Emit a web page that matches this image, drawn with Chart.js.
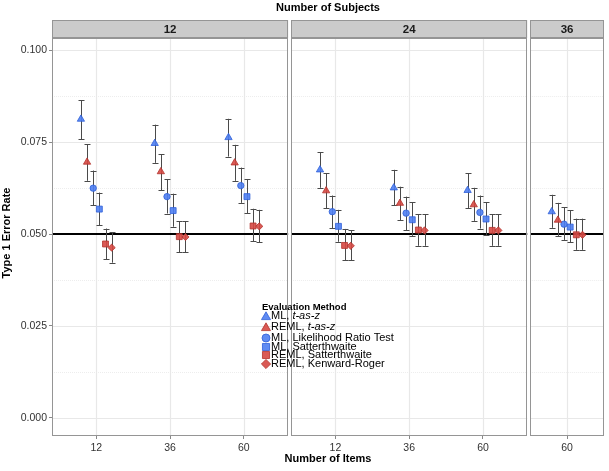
<!DOCTYPE html>
<html><head><meta charset="utf-8">
<script src="https://cdn.jsdelivr.net/npm/chart.js@4/dist/chart.umd.min.js"></script>
<style>html,body{margin:0;padding:0;background:#fff}#wrap{width:609px;height:471px;position:relative}</style>
</head><body><div id="wrap"><canvas id="c" width="609" height="471"></canvas></div>
<script>
// ---------- DATA ----------
const subjects = ['12', '24', '36'];
const itemsBySubject = [['12', '36', '60'], ['12', '36', '60'], ['60']];
const methodNames = ['ML, t-as-z', 'REML, t-as-z', 'ML, Likelihood Ratio Test', 'ML, Satterthwaite', 'REML, Satterthwaite', 'REML, Kenward-Roger'];
const yTickValues = [0, 0.025, 0.05, 0.075, 0.1];
const yMinorValues = [0.0125, 0.0375, 0.0625, 0.0875];
const nominalAlpha = 0.05;
// groups in order: S12-I12, S12-I36, S12-I60, S24-I12, S24-I36, S24-I60, S36-I60
const mlTasZ      = [0.0813, 0.0747, 0.0763, 0.0675, 0.0626, 0.0619, 0.0561];
const mlTasZLo    = [0.0758, 0.0694, 0.0711, 0.0626, 0.0578, 0.0571, 0.0517];
const mlTasZHi    = [0.0865, 0.0798, 0.0814, 0.0723, 0.0675, 0.0666, 0.0607];
const remlTasZ    = [0.0696, 0.0670, 0.0694, 0.0618, 0.0584, 0.0580, 0.0538];
const remlTasZLo  = [0.0645, 0.0620, 0.0645, 0.0570, 0.0538, 0.0536, 0.0495];
const remlTasZHi  = [0.0745, 0.0717, 0.0743, 0.0666, 0.0629, 0.0626, 0.0585];
const mlLrt       = [0.0625, 0.0602, 0.0632, 0.0561, 0.0557, 0.0559, 0.0527];
const mlLrtLo     = [0.0578, 0.0556, 0.0585, 0.0516, 0.0511, 0.0515, 0.0484];
const mlLrtHi     = [0.0673, 0.0649, 0.0681, 0.0605, 0.0602, 0.0605, 0.0573];
const mlSatt      = [0.0568, 0.0564, 0.0602, 0.0521, 0.0539, 0.0541, 0.0519];
const mlSattLo    = [0.0524, 0.0520, 0.0557, 0.0479, 0.0495, 0.0497, 0.0478];
const mlSattHi    = [0.0613, 0.0610, 0.0650, 0.0566, 0.0586, 0.0587, 0.0565];
const remlSatt    = [0.0473, 0.0493, 0.0522, 0.0469, 0.0511, 0.0510, 0.0498];
const remlSattLo  = [0.0432, 0.0450, 0.0481, 0.0429, 0.0468, 0.0468, 0.0457];
const remlSattHi  = [0.0515, 0.0535, 0.0569, 0.0514, 0.0554, 0.0554, 0.0542];
const remlKr      = [0.0463, 0.0492, 0.0521, 0.0468, 0.0510, 0.0510, 0.0498];
const remlKrLo    = [0.0422, 0.0450, 0.0478, 0.0428, 0.0468, 0.0468, 0.0457];
const remlKrHi    = [0.0505, 0.0535, 0.0566, 0.0510, 0.0554, 0.0554, 0.0542];

// ---------- STYLE / LAYOUT ----------
const FONT = "'Liberation Sans', Arial, Helvetica, sans-serif";
const BLUE = 'rgba(78,126,242,0.9)', BLUE_E = '#2f5fd8';
const RED = 'rgba(214,72,66,0.9)', RED_E = '#b3322c';
const est = [mlTasZ, remlTasZ, mlLrt, mlSatt, remlSatt, remlKr];
const lo = [mlTasZLo, remlTasZLo, mlLrtLo, mlSattLo, remlSattLo, remlKrLo];
const hi = [mlTasZHi, remlTasZHi, mlLrtHi, mlSattHi, remlSattHi, remlKrHi];
const shapes = ['triangle', 'triangle', 'circle', 'rect', 'rect', 'rectRot'];
const radii = [4.2, 4.2, 3.2, 4.2, 4.2, 3.6];
const legRadii = [5.2, 5.2, 4.0, 5.0, 5.0, 4.6];
const fills = [BLUE, RED, BLUE, BLUE, RED, RED];
const edges = [BLUE_E, RED_E, BLUE_E, BLUE_E, RED_E, RED_E];

const PANEL_GAP = 0.04, DODGE = 0.5;
let cursor = 0;
const panels = [];
itemsBySubject.forEach((items, p) => {
  const expand = items.length > 1 ? 0.6 : 0.5;
  const start = cursor;
  const centers = items.map((_, k) => start + expand + k);
  const end = start + 2 * expand + items.length - 1;
  panels.push({ start, end, centers, label: subjects[p] });
  cursor = end + PANEL_GAP;
});
const totalUnits = cursor - PANEL_GAP;
const groupCenters = panels.flatMap(p => p.centers);
const xTickLabels = itemsBySubject.flat();
const nM = methodNames.length;
const dodgeOff = j => ((j + 0.5) / nM) * DODGE - DODGE / 2;

const datasets = methodNames.map((name, j) => ({
  label: name,
  data: groupCenters.map((c, g) => ({ x: c + dodgeOff(j), y: est[j][g] })),
  pointStyle: shapes[j],
  pointRadius: radii[j],
  pointBackgroundColor: fills[j],
  pointBorderColor: edges[j],
  pointBorderWidth: 0.8,
  showLine: false
}));

const facetPlugin = {
  id: 'facet',
  beforeDatasetsDraw(chart) {
    const { ctx, chartArea: a, scales: { x, y } } = chart;
    ctx.save();
    panels.forEach(p => {
      const L = x.getPixelForValue(p.start), R = x.getPixelForValue(p.end);
      ctx.fillStyle = '#fff';
      ctx.fillRect(L, a.top, R - L, a.bottom - a.top);
      ctx.strokeStyle = '#ededed'; ctx.lineWidth = 1; ctx.setLineDash([1, 1]);
      yMinorValues.forEach(v => {
        const yy = Math.round(y.getPixelForValue(v)) + 0.5;
        ctx.beginPath(); ctx.moveTo(L, yy); ctx.lineTo(R, yy); ctx.stroke();
      });
      ctx.setLineDash([]);
      ctx.strokeStyle = '#e8e8e8'; ctx.lineWidth = 1.2;
      yTickValues.forEach(v => {
        const yy = Math.round(y.getPixelForValue(v)) + 0.5;
        ctx.beginPath(); ctx.moveTo(L, yy); ctx.lineTo(R, yy); ctx.stroke();
      });
      p.centers.forEach(c => {
        const xx = Math.round(x.getPixelForValue(c)) + 0.5;
        ctx.beginPath(); ctx.moveTo(xx, a.top); ctx.lineTo(xx, a.bottom); ctx.stroke();
      });
      ctx.strokeStyle = '#000'; ctx.lineWidth = 2;
      const yr = y.getPixelForValue(nominalAlpha);
      ctx.beginPath(); ctx.moveTo(L, yr); ctx.lineTo(R, yr); ctx.stroke();
      ctx.strokeStyle = '#959595'; ctx.lineWidth = 1;
      ctx.strokeRect(Math.round(L) + 0.5, Math.round(a.top) + 0.5, Math.round(R - L) - 1, Math.round(a.bottom - a.top) - 1);
    });
    ctx.strokeStyle = '#4a4a4a'; ctx.lineWidth = 1;
    methodNames.forEach((_, j) => {
      groupCenters.forEach((c, g) => {
        const xx = Math.round(x.getPixelForValue(c + dodgeOff(j))) + 0.5;
        const y1 = y.getPixelForValue(lo[j][g]), y2 = y.getPixelForValue(hi[j][g]);
        ctx.beginPath();
        ctx.moveTo(xx, y1); ctx.lineTo(xx, y2);
        ctx.moveTo(xx - 3, Math.round(y1) + 0.5); ctx.lineTo(xx + 3, Math.round(y1) + 0.5);
        ctx.moveTo(xx - 3, Math.round(y2) + 0.5); ctx.lineTo(xx + 3, Math.round(y2) + 0.5);
        ctx.stroke();
      });
    });
    ctx.restore();
  },
  afterDraw(chart) {
    const { ctx, chartArea: a, scales: { x } } = chart;
    ctx.save();
    panels.forEach(p => {
      const L = x.getPixelForValue(p.start), R = x.getPixelForValue(p.end);
      ctx.fillStyle = '#cbcbcb';
      ctx.fillRect(L, a.top - 18, R - L, 18);
      ctx.strokeStyle = '#959595'; ctx.lineWidth = 1;
      ctx.strokeRect(Math.round(L) + 0.5, Math.round(a.top - 18) + 0.5, Math.round(R - L) - 1, 17);
      ctx.fillStyle = '#1a1a1a';
      ctx.font = 'bold 11.5px ' + FONT;
      ctx.textAlign = 'center'; ctx.textBaseline = 'middle';
      ctx.fillText(p.label, (L + R) / 2, a.top - 8.5);
    });
    ctx.fillStyle = '#000';
    ctx.font = 'bold 11px ' + FONT;
    ctx.textAlign = 'center'; ctx.textBaseline = 'middle';
    const cx = (a.left + a.right) / 2;
    ctx.fillText('Number of Subjects', cx, 8);
    ctx.fillText('Number of Items', cx, 459);
    ctx.save();
    ctx.translate(7, 233); ctx.rotate(-Math.PI / 2);
    ctx.fillText('Type 1 Error Rate', 0, 0);
    ctx.restore();
    // legend
    ctx.textAlign = 'left';
    ctx.font = 'bold 9.5px ' + FONT;
    ctx.fillText('Evaluation Method', 262, 307);
    const rows = [316, 327, 338, 347, 355, 364];
    methodNames.forEach((name, j) => {
      ctx.fillStyle = fills[j]; ctx.strokeStyle = edges[j]; ctx.lineWidth = 0.8;
      Chart.helpers.drawPoint(ctx, { pointStyle: shapes[j], radius: legRadii[j], rotation: 0, borderWidth: 0.8 }, 266, rows[j] + (shapes[j] === 'triangle' ? 1 : 0));
      ctx.fillStyle = '#000';
      const parts = name.split('t-as-z');
      ctx.font = '11px ' + FONT;
      let tx = 271;
      ctx.fillText(parts[0], tx, rows[j]);
      if (parts.length > 1) {
        tx += ctx.measureText(parts[0]).width;
        ctx.font = 'italic 11px ' + FONT;
        ctx.fillText('t-as-z', tx, rows[j]);
      }
    });
    ctx.restore();
  }
};

Chart.defaults.font.family = FONT;
Chart.defaults.color = '#333';
new Chart(document.getElementById('c'), {
  type: 'scatter',
  data: { datasets },
  options: {
    responsive: false, animation: false, devicePixelRatio: 1,
    layout: { padding: { top: 38, right: 2, left: 0, bottom: 0 } },
    plugins: { legend: { display: false }, tooltip: { enabled: false }, title: { display: false } },
    scales: {
      x: {
        type: 'linear', min: 0, max: totalUnits,
        afterBuildTicks: s => { s.ticks = groupCenters.map(v => ({ value: v })); },
        afterFit: s => { s.height = 35; },
        ticks: { autoSkip: false, maxRotation: 0, padding: 3, color: '#333', font: { size: 10.5, family: FONT },
          callback: (v, i) => xTickLabels[i] },
        grid: { drawOnChartArea: false, drawTicks: true, tickLength: 3, tickColor: '#888', tickWidth: 1 },
        border: { display: false }
      },
      y: {
        min: -0.005, max: 0.1034,
        afterBuildTicks: s => { s.ticks = yTickValues.map(v => ({ value: v })); },
        afterFit: s => { s.width = 52; },
        ticks: { padding: 2, color: '#333', font: { size: 10.5, family: FONT }, callback: v => Number(v).toFixed(3) },
        grid: { drawOnChartArea: false, drawTicks: true, tickLength: 3, tickColor: '#888', tickWidth: 1 },
        border: { display: false }
      }
    }
  },
  plugins: [facetPlugin]
});
</script></body></html>
